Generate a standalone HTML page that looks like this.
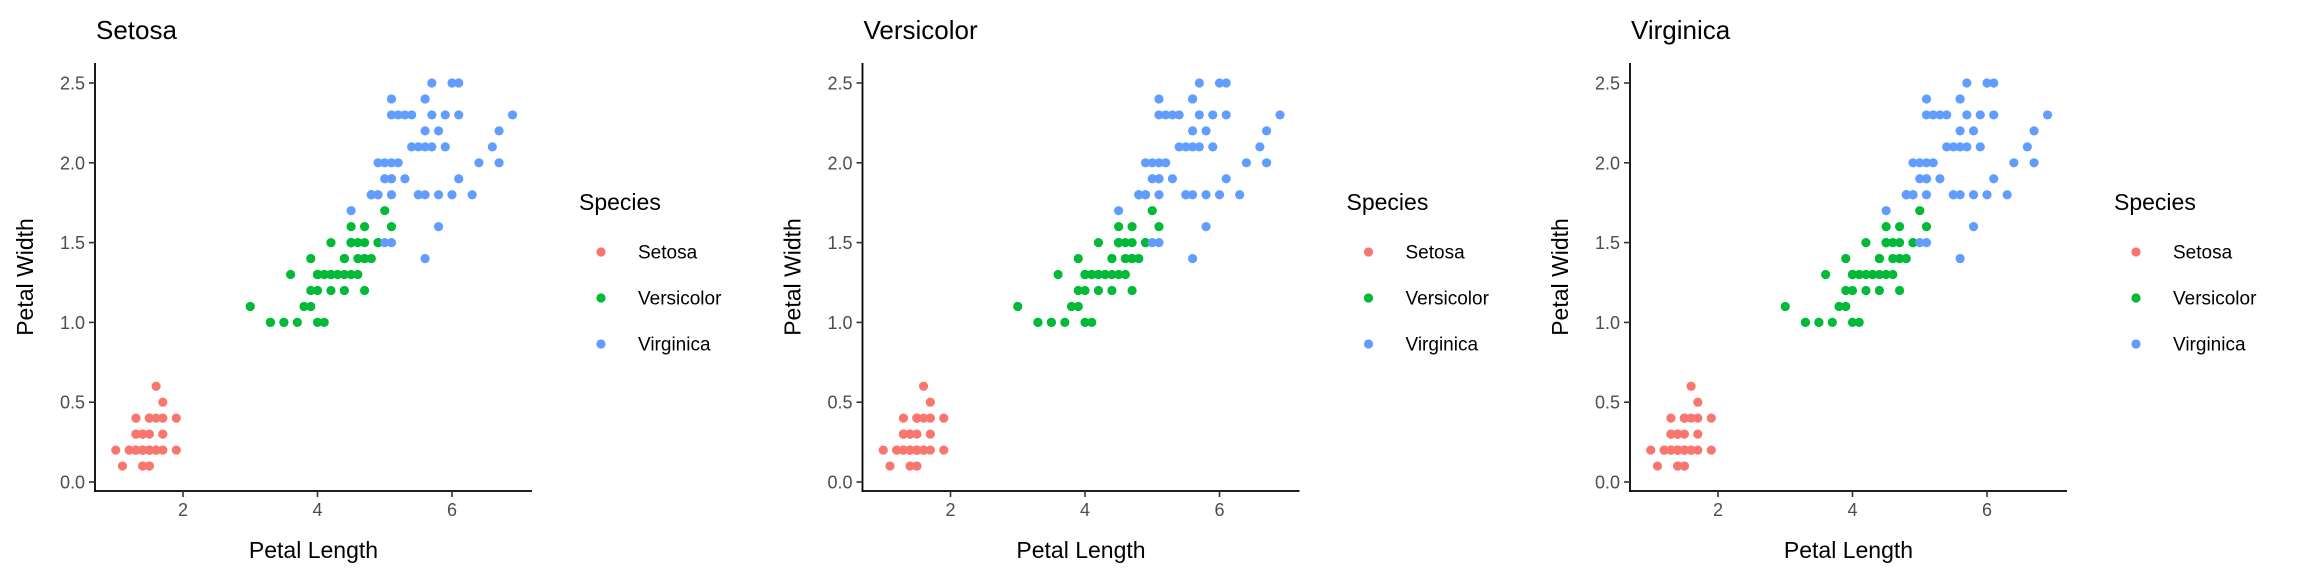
<!DOCTYPE html>
<html><head><meta charset="utf-8">
<style>
html,body{margin:0;padding:0;background:#fff;}
svg{display:block;font-family:"Liberation Sans",Arial,sans-serif;}
</style></head>
<body>
<svg id="chart" width="2304" height="576" viewBox="0 0 2304 576" xmlns="http://www.w3.org/2000/svg"></svg>
<script>
const panelTitles = ["Setosa","Versicolor","Virginica"];
const speciesNames = ["Setosa","Versicolor","Virginica"];
const speciesColors = ["#F8766D","#00BA38","#619CFF"];
const xTicks = [2,4,6];
const yTicks = [0.0,0.5,1.0,1.5,2.0,2.5];
const yTickLabels = ["0.0","0.5","1.0","1.5","2.0","2.5"];
const setosaLength = [1.4,1.4,1.3,1.5,1.4,1.7,1.4,1.5,1.4,1.5,1.5,1.6,1.4,1.1,1.2,1.5,1.3,1.4,1.7,1.5,1.7,1.5,1.0,1.7,1.9,1.6,1.6,1.5,1.4,1.6,1.6,1.5,1.5,1.4,1.5,1.2,1.3,1.4,1.3,1.5,1.3,1.3,1.3,1.6,1.9,1.4,1.6,1.4,1.5,1.4];
const setosaWidth = [0.2,0.2,0.2,0.2,0.2,0.4,0.3,0.2,0.2,0.1,0.2,0.2,0.1,0.1,0.2,0.4,0.4,0.3,0.3,0.3,0.2,0.4,0.2,0.5,0.2,0.2,0.4,0.2,0.2,0.2,0.2,0.4,0.1,0.2,0.2,0.2,0.2,0.1,0.2,0.2,0.3,0.3,0.2,0.6,0.4,0.3,0.2,0.2,0.2,0.2];
const versicolorLength = [4.7,4.5,4.9,4.0,4.6,4.5,4.7,3.3,4.6,3.9,3.5,4.2,4.0,4.7,3.6,4.4,4.5,4.1,4.5,3.9,4.8,4.0,4.9,4.7,4.3,4.4,4.8,5.0,4.5,3.5,3.8,3.7,3.9,5.1,4.5,4.5,4.7,4.4,4.1,4.0,4.4,4.6,4.0,3.3,4.2,4.2,4.2,4.3,3.0,4.1];
const versicolorWidth = [1.4,1.5,1.5,1.3,1.5,1.3,1.6,1.0,1.3,1.4,1.0,1.5,1.0,1.4,1.3,1.4,1.5,1.0,1.5,1.1,1.8,1.3,1.5,1.2,1.3,1.4,1.4,1.7,1.5,1.0,1.1,1.0,1.2,1.6,1.5,1.6,1.5,1.3,1.3,1.3,1.2,1.4,1.2,1.0,1.3,1.2,1.3,1.3,1.1,1.3];
const virginicaLength = [6.0,5.1,5.9,5.6,5.8,6.6,4.5,6.3,5.8,6.1,5.1,5.3,5.5,5.0,5.1,5.3,5.5,6.7,6.9,5.0,5.7,4.9,6.7,4.9,5.7,6.0,4.8,4.9,5.6,5.8,6.1,6.4,5.6,5.1,5.6,6.1,5.6,5.5,4.8,5.4,5.6,5.1,5.1,5.9,5.7,5.2,5.0,5.2,5.4,5.1];
const virginicaWidth = [2.5,1.9,2.1,1.8,2.2,2.1,1.7,1.8,1.8,2.5,2.0,1.9,2.1,2.0,2.4,2.3,1.8,2.2,2.3,1.5,2.3,2.0,2.0,1.8,2.1,1.8,1.8,1.8,2.1,1.6,1.9,2.0,2.2,1.5,1.4,2.3,2.4,1.8,1.8,2.1,2.4,2.3,1.9,2.3,2.5,2.3,1.9,2.0,2.3,1.8];

const NS = "http://www.w3.org/2000/svg";
const svg = document.getElementById("chart");
function mk(tag, attrs, parent){ const e=document.createElementNS(NS,tag); for(const k in attrs) e.setAttribute(k,attrs[k]); (parent||svg).appendChild(e); return e; }

const lengths=[setosaLength,versicolorLength,virginicaLength];
const widths=[setosaWidth,versicolorWidth,virginicaWidth];

for(let p=0;p<3;p++){
  const off=p*767.5;
  const axL=95+off, axR=532+off, axT=63, axB=491;
  const xs=v=>183+off+(v-2)*67.25;
  const ys=v=>482-(v)*159.6;
  const g=mk("g",{});
  
  
  const t=mk("text",{x:axL+1,y:39,"font-size":26,fill:"#000"},g); t.textContent=panelTitles[p];
  
  
  // points
  for(let s=0;s<3;s++){
    for(let i=0;i<lengths[s].length;i++){
      const c=mk("circle",{cx:xs(lengths[s][i]),cy:ys(widths[s][i]),r:4.6,fill:speciesColors[s]},g);
      
      
    }
  }
  // axes
  const ya=mk("line",{x1:axL,y1:axT,x2:axL,y2:axB+0.8,stroke:"#000","stroke-width":1.8},g);
  
  
  const xa=mk("line",{x1:axL-0.8,y1:axB,x2:axR,y2:axB,stroke:"#000","stroke-width":1.8},g);
  
  
  xTicks.forEach(v=>{
    mk("line",{x1:xs(v),y1:axB,x2:xs(v),y2:axB+6,stroke:"#333","stroke-width":1.6},g);
    const l=mk("text",{x:xs(v),y:axB+25,"font-size":18,fill:"#4d4d4d","text-anchor":"middle"},g); l.textContent=v;
    
    
  });
  yTicks.forEach((v,i)=>{
    mk("line",{x1:axL-6,y1:ys(v),x2:axL,y2:ys(v),stroke:"#333","stroke-width":1.6},g);
    const l=mk("text",{x:axL-10,y:ys(v)+6.5,"font-size":18,fill:"#4d4d4d","text-anchor":"end"},g); l.textContent=yTickLabels[i];
    
    
  });
  const xt=mk("text",{x:(axL+axR)/2,y:558,"font-size":23,fill:"#000","text-anchor":"middle"},g); xt.textContent="Petal Length";
  
  
  const yt=mk("text",{x:0,y:0,"font-size":23,fill:"#000","text-anchor":"middle",transform:`translate(${33+off},277) rotate(-90)`},g); yt.textContent="Petal Width";
  
  
  // legend
  const lg=mk("g",{},g);
  
  
  const lt=mk("text",{x:579+off,y:210,"font-size":23,fill:"#000"},lg); lt.textContent="Species";
  
  
  const ly=[252,298,344];
  for(let s=0;s<3;s++){
    const e=mk("g",{},lg);
    
    
    mk("circle",{cx:601+off,cy:ly[s],r:4.6,fill:speciesColors[s]},e);
    const tx=mk("text",{x:638+off,y:ly[s]+6.5,"font-size":19,fill:"#000"},e); tx.textContent=speciesNames[s];
  }
}
</script>
</body></html>
